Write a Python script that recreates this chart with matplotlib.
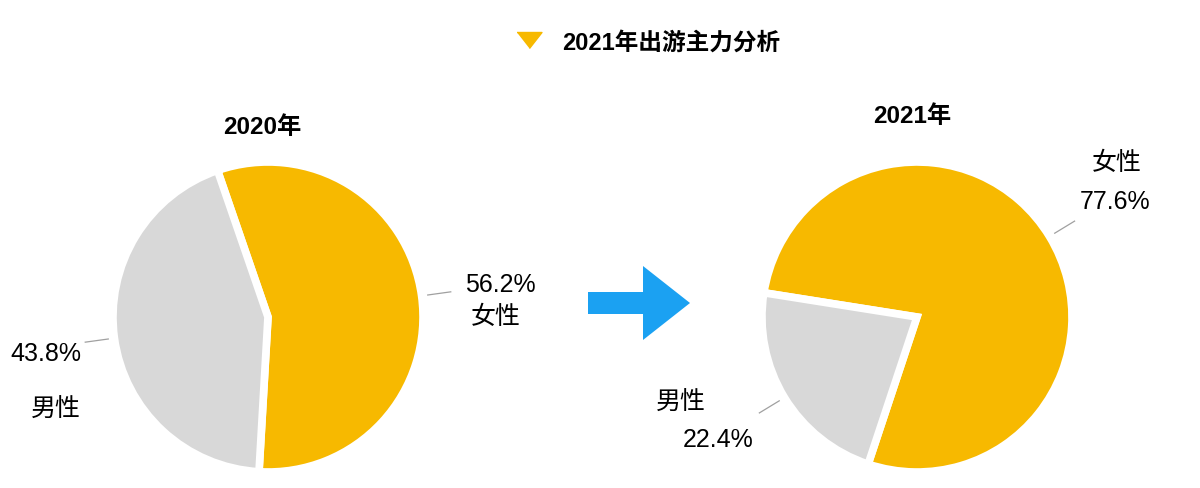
import numpy as np
import matplotlib
matplotlib.use("Agg")
import matplotlib.pyplot as plt
from matplotlib.lines import Line2D

plt.rcParams['font.family'] = ['Liberation Sans', 'Noto Sans CJK SC', 'DejaVu Sans']

years = ['2020年', '2021年']
categories = ['女性', '男性']
female = [56.2, 77.6]
male = [43.8, 22.4]
legend_label = '2021年出游主力分析'

YELLOW = '#F7B900'
GRAY = '#D8D8D8'
BLUE = '#1BA1F2'

W, H = 1200, 489
fig = plt.figure(figsize=(W / 100, H / 100), dpi=100)
ax = fig.add_axes([0, 0, 1, 1])

def Y(y):
    return H - y

centers = [(268, Y(318)), (917, Y(318))]
radius = 155
startangles = [109, 171]
explodes = [(0.03, 0.03), (0.0, 0.065)]

wedge_sets = []
for i in range(2):
    wedges, _ = ax.pie([female[i], male[i]], colors=[YELLOW, GRAY],
                       startangle=startangles[i], counterclock=False,
                       center=centers[i], radius=radius, explode=explodes[i],
                       wedgeprops=dict(edgecolor='white', linewidth=5.5))
    wedge_sets.append(wedges)

ax.set_xlim(0, W)
ax.set_ylim(0, H)
ax.set_aspect('equal')
ax.axis('off')

# leader lines along each wedge's mid angle
for wedges in wedge_sets:
    for w in wedges:
        mid = np.deg2rad((w.theta1 + w.theta2) / 2)
        cx, cy = w.center
        r0, r1 = radius * 1.04, radius * 1.19
        ax.plot([cx + r0 * np.cos(mid), cx + r1 * np.cos(mid)],
                [cy + r0 * np.sin(mid), cy + r1 * np.sin(mid)],
                color='#A0A0A0', lw=0.9)

fs = 18
# 2020 labels
ax.text(500, Y(285), f'{female[0]}%', ha='center', va='center', fontsize=fs)
ax.text(496, Y(317), categories[0], ha='center', va='center', fontsize=fs)
ax.text(46, Y(354), f'{male[0]}%', ha='center', va='center', fontsize=fs)
ax.text(56, Y(410), categories[1], ha='center', va='center', fontsize=fs)
# 2021 labels
ax.text(1117, Y(163), categories[0], ha='center', va='center', fontsize=fs)
ax.text(1115, Y(202), f'{female[1]}%', ha='center', va='center', fontsize=fs)
ax.text(681, Y(403), categories[1], ha='center', va='center', fontsize=fs)
ax.text(718, Y(440), f'{male[1]}%', ha='center', va='center', fontsize=fs)

# titles
ax.text(262, Y(128), years[0], ha='center', va='center', fontsize=17.5, fontweight='bold')
ax.text(912, Y(117), years[1], ha='center', va='center', fontsize=17.5, fontweight='bold')

# arrow
ax.arrow(588, Y(304), 102, 0, width=22, head_width=74, head_length=47,
         length_includes_head=True, color=BLUE, lw=0)

# legend
tri = [(-1, 0.64), (1, 0.64), (0, -0.64)]
handle = Line2D([], [], marker=tri, color=YELLOW, linestyle='None', markersize=18)
fig.legend([handle], [legend_label], loc='center left',
           bbox_to_anchor=(511 / W, 1 - 43 / H),
           frameon=False, prop=dict(size=17, weight='bold'),
           borderpad=0, borderaxespad=0, handlelength=1.5, handletextpad=0.66)

fig.savefig('out.png', dpi=100)
